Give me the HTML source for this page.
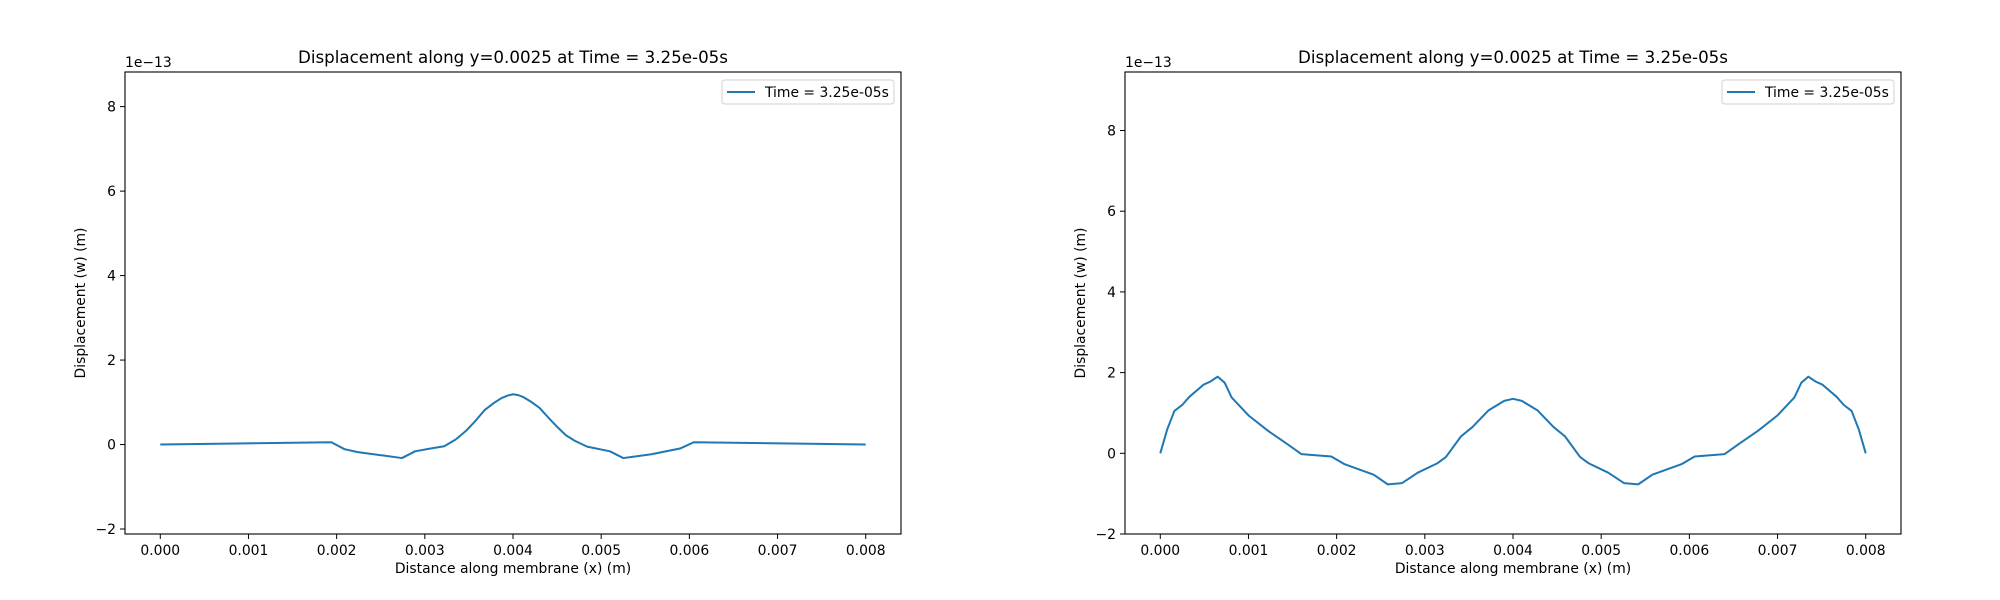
<!DOCTYPE html>
<html><head><meta charset="utf-8"><style>
body{margin:0;background:#fff;}
svg{display:block;font-family:"DejaVu Sans","Liberation Sans",sans-serif;}
</style></head><body>
<svg id="fig" width="2000" height="600" viewBox="0 0 2000 600" xmlns="http://www.w3.org/2000/svg"></svg>
<script>
const xTicks = [0,0.001,0.002,0.003,0.004,0.005,0.006,0.007,0.008];
const xTickLabels = ["0.000","0.001","0.002","0.003","0.004","0.005","0.006","0.007","0.008"];
const yTicks = [-2,0,2,4,6,8];
const yTickLabels = ["\u22122","0","2","4","6","8"];
const leftX = [0,0.00194,0.00209,0.00224,0.00253,0.00274,0.00289,0.00305,0.00322,0.00335,0.00347,0.00357,0.00368,0.00378,0.00387,0.00394,0.004,0.00406,0.00412,0.0042,0.0043,0.0044,0.00451,0.0046,0.0047,0.00484,0.0051,0.00525,0.00557,0.0059,0.00605,0.008];
const leftY = [0,0.055,-0.11,-0.18,-0.26,-0.32,-0.16,-0.1,-0.04,0.12,0.33,0.55,0.82,0.98,1.1,1.16,1.19,1.17,1.12,1.02,0.87,0.64,0.4,0.22,0.09,-0.05,-0.16,-0.32,-0.23,-0.09,0.055,0];
const rightX = [0,0.00008,0.00016,0.00025,0.00033,0.00049,0.00057,0.00065,0.00073,0.00081,0.001,0.00122,0.00144,0.0016,0.00194,0.00209,0.00242,0.00258,0.00274,0.00292,0.00314,0.00324,0.00341,0.00354,0.00372,0.0039,0.004,0.0041,0.00428,0.00446,0.00459,0.00476,0.00486,0.00508,0.00526,0.00542,0.00558,0.00591,0.00606,0.0064,0.00656,0.00678,0.007,0.00719,0.00727,0.00735,0.00743,0.00751,0.00767,0.00775,0.00784,0.00792,0.008];
const rightY = [0,0.6,1.05,1.2,1.4,1.7,1.78,1.9,1.75,1.38,0.94,0.56,0.23,-0.02,-0.08,-0.27,-0.53,-0.77,-0.74,-0.48,-0.25,-0.09,0.42,0.65,1.06,1.3,1.35,1.3,1.06,0.65,0.42,-0.09,-0.25,-0.48,-0.74,-0.77,-0.53,-0.27,-0.08,-0.02,0.23,0.56,0.94,1.38,1.75,1.9,1.78,1.7,1.4,1.2,1.05,0.6,0];
const titleText = "Displacement along y=0.0025 at Time = 3.25e-05s";
const legendText = "Time = 3.25e-05s";

const NS = "http://www.w3.org/2000/svg";
const svg = document.getElementById("fig");
function mk(tag, attrs, parent, text){
  const e = document.createElementNS(NS, tag);
  for (const k in attrs) e.setAttribute(k, attrs[k]);
  if (text !== undefined) e.textContent = text;
  parent.appendChild(e);
  return e;
}

function panel(off, xs, ys, yMin, yMax, name){
  const L = 125 + off, R = 901 + off, T = 72, B = 534;
  const xMin = -0.0004, xMax = 0.0084;
  const sx = v => L + (v - xMin) / (xMax - xMin) * (R - L);
  const sy = v => B - (v - yMin) / (yMax - yMin) * (B - T);
  const g = mk("g", {}, svg);
  
  
  let d = "";
  xs.forEach((x, i) => { d += (i ? "L" : "M") + sx(x).toFixed(2) + "," + sy(ys[i]).toFixed(2); });
  const p = mk("path", {d: d, fill: "none", stroke: "#1f77b4", "stroke-width": 2, "stroke-linejoin": "round"}, g);
  
  
  const fr = mk("rect", {x: L, y: T, width: R - L, height: B - T, fill: "none", stroke: "#000", "stroke-width": 1.1}, g);
  
  
  xTicks.forEach((t, i) => {
    const x = sx(t);
    mk("line", {x1: x, x2: x, y1: B, y2: B + 5, stroke: "#000", "stroke-width": 1}, g);
    const tx = mk("text", {x: x, y: B + 21, "font-size": 13.9, "text-anchor": "middle", fill: "#000"}, g, xTickLabels[i]);
    
    
  });
  yTicks.forEach((t, i) => {
    const y = sy(t);
    mk("line", {x1: L - 5, x2: L, y1: y, y2: y, stroke: "#000", "stroke-width": 1}, g);
    const ty = mk("text", {x: L - 9, y: y + 5, "font-size": 13.9, "text-anchor": "end", fill: "#000"}, g, yTickLabels[i]);
    
    
  });
  const ti = mk("text", {x: (L + R) / 2, y: 63, "font-size": 16.7, "text-anchor": "middle", fill: "#000"}, g, titleText);
  
  
  const off13 = mk("text", {x: L, y: 67, "font-size": 13.9, fill: "#000"}, g, "1e\u221213");
  
  
  const xl = mk("text", {x: (L + R) / 2, y: 573, "font-size": 13.9, "text-anchor": "middle", fill: "#000"}, g, "Distance along membrane (x) (m)");
  
  
  const yl = mk("text", {x: 0, y: 0, "font-size": 13.9, "text-anchor": "middle", fill: "#000", transform: "translate(" + (off + 85) + "," + ((T + B) / 2) + ") rotate(-90)"}, g, "Displacement (w) (m)");
  
  
  const lg = mk("g", {}, g);
  
  
  mk("rect", {x: off + 722, y: 80, width: 172, height: 24, rx: 3, fill: "#fff", stroke: "#d0d0d0", "stroke-width": 1}, lg);
  mk("line", {x1: off + 727, x2: off + 755, y1: 92, y2: 92, stroke: "#1f77b4", "stroke-width": 2}, lg);
  const lt = mk("text", {x: off + 765, y: 97, "font-size": 13.9, fill: "#000"}, lg, legendText);
  
  
}
panel(0, leftX, leftY, -2.118, 8.82, "left-chart");
panel(1000, rightX, rightY, -2.0, 9.45, "right-chart");
</script>
</body></html>
